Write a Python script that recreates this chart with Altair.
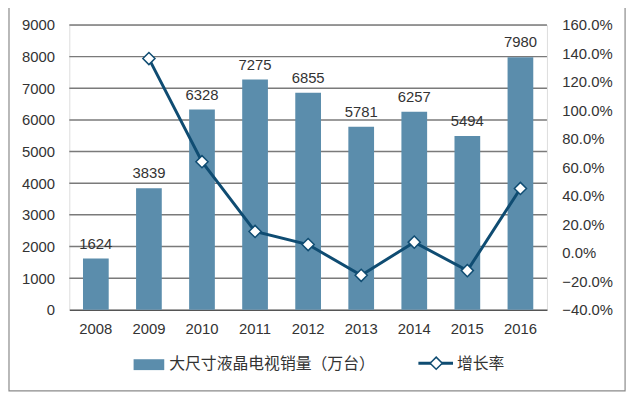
import altair as alt
import pandas as pd

years = ["2008", "2009", "2010", "2011", "2012", "2013", "2014", "2015", "2016"]
sales = [1624, 3839, 6328, 7275, 6855, 5781, 6257, 5494, 7980]
growth = [None, 1.364, 0.640, 0.150, 0.058, -0.158, 0.075, -0.125, 0.452]
left_ticks = [0, 1000, 2000, 3000, 4000, 5000, 6000, 7000, 8000, 9000]
right_ticks = [-0.4, -0.2, 0.0, 0.2, 0.4, 0.6, 0.8, 1.0, 1.2, 1.4, 1.6]
bar_name = "大尺寸液晶电视销量（万台）"
line_name = "增长率"

BAR = "#5b8dac"
LINE = "#0f4c72"
TXT = "#333333"
FONT = "Liberation Sans, Noto Sans CJK SC"

df = pd.DataFrame({"year": years, "sales": sales, "growth": growth})
grid_df = pd.DataFrame({"sales": left_ticks[1:]})
one = pd.DataFrame({"k": [0]})

x = alt.X(
    "year:N",
    sort=years,
    scale=alt.Scale(paddingInner=0, paddingOuter=0),
    axis=alt.Axis(title=None, labelAngle=0, labelFontSize=15, labelPadding=12,
                  ticks=False, domainColor="#555555", domainWidth=1.5,
                  labelColor=TXT, labelFont=FONT, grid=False),
)

left_axis = alt.Axis(title=None, values=left_ticks, format="d", labelFontSize=15,
                     labelPadding=15, ticks=False, domain=False, grid=False,
                     labelColor=TXT, labelFont=FONT)
y_sales = alt.Y("sales:Q", scale=alt.Scale(domain=[0, 9000], nice=False), axis=left_axis)

grid = alt.Chart(grid_df).mark_rule(stroke="#7a7a7a", strokeWidth=1.5).encode(
    y=alt.Y("sales:Q", scale=alt.Scale(domain=[0, 9000], nice=False), axis=left_axis),
)

bars = alt.Chart(df).mark_bar(size=26, color=BAR).encode(x=x, y=y_sales)

labels = alt.Chart(df).mark_text(fontSize=15, dy=-10, baseline="alphabetic",
                                 color=TXT, font=FONT).encode(
    x=x, y=y_sales, text="sales:Q",
)

line = alt.Chart(df).transform_filter("datum.growth != null").mark_line(
    color=LINE, strokeWidth=3,
    point=alt.OverlayMarkDef(shape="diamond", filled=True, fill="white",
                             stroke=LINE, strokeWidth=1.5, size=150, opacity=1),
).encode(
    x=x,
    y=alt.Y("growth:Q", scale=alt.Scale(domain=[-0.4, 1.6], nice=False),
            axis=alt.Axis(title=None, orient="right", values=right_ticks,
                          format=".1%", labelFontSize=15, labelPadding=15,
                          ticks=False, domain=False, grid=False,
                          labelColor=TXT, labelFont=FONT)),
)

frame = alt.Chart(one).mark_rect(fillOpacity=0, stroke="#8a8a8a", strokeWidth=1.2).encode(
    x=alt.value(-61), x2=alt.value(562), y=alt.value(-18), y2=alt.value(370)
)

leg_sq = alt.Chart(one).mark_rect(color=BAR).encode(
    x=alt.value(65), x2=alt.value(96), y=alt.value(338), y2=alt.value(349)
)
leg_txt1 = alt.Chart(one).mark_text(align="left", baseline="middle", fontSize=16,
                                    color=TXT, font=FONT, text=bar_name).encode(
    x=alt.value(101), y=alt.value(343)
)
leg_rule = alt.Chart(one).mark_rule(color=LINE, strokeWidth=3).encode(
    x=alt.value(353), x2=alt.value(388), y=alt.value(342)
)
leg_pt = alt.Chart(one).mark_point(shape="diamond", filled=True, fill="white",
                                   stroke=LINE, strokeWidth=1.5, size=150, opacity=1).encode(
    x=alt.value(371), y=alt.value(342)
)
leg_txt2 = alt.Chart(one).mark_text(align="left", baseline="middle", fontSize=16,
                                    color=TXT, font=FONT, text=line_name).encode(
    x=alt.value(392), y=alt.value(343)
)

left = alt.layer(grid, bars, labels)
right = alt.layer(line)

chart = alt.layer(
    left, right, frame, leg_sq, leg_txt1, leg_rule, leg_pt, leg_txt2
).resolve_scale(y="independent").properties(
    width=483, height=288,
    autosize=alt.AutoSizeParams(type="none"),
    padding={"left": 62, "top": 15, "right": 86, "bottom": 84},
    background="white",
)

chart.save("out.html", embed_options={"renderer": "svg", "actions": False})
